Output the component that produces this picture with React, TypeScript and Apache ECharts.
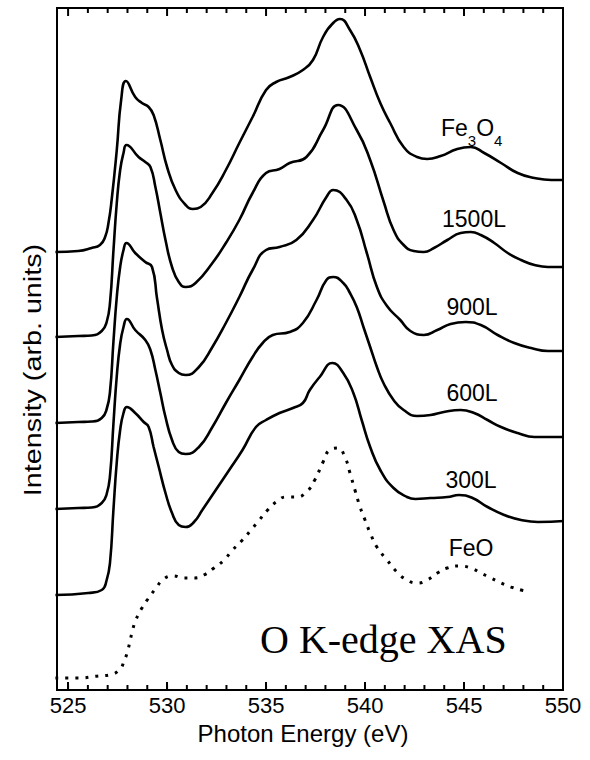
import React, { useEffect, useRef } from "react";
import * as echarts from "echarts";

// ---- axis ticks ----
const xMajorTicks = [525, 530, 535, 540, 545, 550];
const xMinorTicks = [
  525, 526, 527, 528, 529, 530, 531, 532, 533, 534, 535, 536, 537, 538, 539, 540,
  541, 542, 543, 544, 545, 546, 547, 548, 549, 550,
];

// ---- series: [photon energy (eV), intensity (arb. units, offset as plotted)] ----
const fe3o4 = [
  [524.36, 43.8], [525.51, 43.9], [526.19, 44.2], [526.61, 44.5], [526.87, 45.3],
  [527.04, 46.7], [527.2, 49.0], [527.46, 54.0], [527.68, 59.0], [527.92, 60.9],
  [528.39, 59.3], [528.73, 58.7], [529.07, 58.3], [529.32, 57.5], [529.66, 55.0],
  [530.0, 52.3], [530.43, 50.0], [530.94, 48.5], [531.31, 48.1], [531.7, 48.3],
  [532.29, 49.7], [532.97, 52.0], [533.65, 54.7], [534.32, 57.3], [535.0, 60.0],
  [535.51, 60.8], [536.19, 61.3], [536.86, 62.0], [537.37, 63.0], [537.88, 65.3],
  [538.39, 66.7], [538.73, 67.1], [539.24, 66.0], [539.75, 64.0], [540.26, 61.3],
  [540.77, 58.7], [541.27, 56.7], [541.95, 54.3], [542.63, 53.3], [543.14, 53.1],
  [543.82, 53.4], [544.66, 54.1], [545.34, 54.3], [546.02, 53.7], [546.87, 52.7],
  [547.71, 51.7], [548.56, 51.2], [549.41, 51.0], [550.05, 51.0],
];

const l1500 = [
  [524.36, 35.3], [525.51, 35.4], [526.19, 35.45], [526.7, 35.9], [526.95, 36.8],
  [527.12, 38.8], [527.29, 43.9], [527.46, 48.7], [527.63, 52.0], [527.8, 53.7],
  [527.95, 54.5], [528.56, 53.3], [528.9, 52.8], [529.16, 52.3], [529.41, 50.3],
  [529.66, 47.7], [529.92, 45.0], [530.25, 42.3], [530.59, 40.8], [530.94, 40.3],
  [531.44, 40.7], [532.29, 42.7], [532.97, 44.7], [533.65, 47.0], [534.32, 49.7],
  [535.0, 51.7], [535.68, 52.1], [536.19, 52.7], [537.04, 53.3], [537.88, 56.0],
  [538.64, 58.5], [539.58, 56.0], [540.26, 53.0], [540.93, 48.9], [541.44, 46.0],
  [541.95, 44.5], [542.46, 43.9], [542.97, 43.8], [543.48, 44.2], [544.16, 45.0],
  [544.83, 45.7], [545.34, 45.8], [545.85, 45.5], [546.53, 44.7], [547.21, 43.7],
  [547.88, 43.0], [548.56, 42.5], [549.24, 42.3], [550.05, 42.3],
];

const l900 = [
  [524.36, 26.7], [525.51, 26.8], [526.19, 26.85], [526.7, 27.2], [526.95, 28.1],
  [527.12, 29.9], [527.29, 34.8], [527.46, 39.3], [527.63, 42.3], [527.8, 44.0],
  [527.95, 44.7], [528.39, 43.7], [528.9, 42.8], [529.24, 42.3], [529.49, 39.2],
  [529.75, 36.0], [530.0, 34.0], [530.25, 32.5], [530.59, 31.7], [530.94, 31.5],
  [531.61, 32.3], [532.29, 34.3], [532.97, 36.7], [533.65, 39.3], [534.32, 42.0],
  [535.0, 44.0], [535.68, 44.3], [536.53, 45.0], [537.37, 47.0], [538.05, 49.3],
  [538.39, 50.0], [539.07, 49.0], [539.58, 47.0], [540.09, 43.7], [540.6, 40.3],
  [541.11, 38.4], [541.78, 37.0], [542.29, 35.9], [542.97, 35.5], [543.65, 36.0],
  [544.32, 36.6], [545.09, 36.8], [545.85, 36.5], [546.7, 35.5], [547.54, 34.7],
  [548.39, 34.2], [549.24, 33.9], [550.05, 33.9],
];

const l600 = [
  [524.36, 18.1], [525.51, 18.2], [526.19, 18.25], [526.7, 18.7], [526.95, 19.6],
  [527.12, 21.5], [527.29, 26.6], [527.46, 31.4], [527.63, 34.6], [527.8, 36.3],
  [527.97, 37.1], [528.39, 36.0], [528.9, 35.0], [529.16, 34.0], [529.41, 32.0],
  [529.66, 29.7], [529.92, 27.3], [530.25, 25.0], [530.59, 23.8], [530.94, 23.6],
  [531.61, 24.3], [532.29, 26.3], [532.97, 28.7], [533.65, 31.0], [534.32, 33.3],
  [534.83, 34.7], [535.34, 35.5], [536.19, 35.8], [536.86, 36.7], [537.55, 39.0],
  [538.05, 41.0], [538.39, 41.3], [538.9, 40.7], [539.24, 39.7], [539.58, 38.3],
  [539.92, 36.3], [540.26, 34.3], [540.6, 32.3], [540.93, 30.7], [541.44, 29.0],
  [541.95, 28.0], [542.63, 27.4], [543.31, 27.5], [543.98, 27.8], [544.83, 28.0],
  [545.51, 27.7], [546.19, 27.0], [546.87, 26.3], [547.71, 25.7], [548.56, 25.3],
  [550.05, 25.3],
];

const l300 = [
  [524.36, 9.5], [526.02, 9.7], [526.7, 10.0], [526.95, 11.0], [527.12, 12.8],
  [527.29, 18.0], [527.46, 22.8], [527.63, 26.0], [527.8, 27.7], [527.97, 28.3],
  [528.39, 27.7], [528.82, 26.8], [529.07, 26.3], [529.32, 24.3], [529.58, 22.3],
  [529.92, 19.7], [530.25, 17.7], [530.59, 16.5], [530.94, 16.3], [531.36, 16.8],
  [531.78, 18.0], [532.46, 20.0], [533.14, 22.0], [533.81, 24.0], [534.49, 26.3],
  [535.0, 27.0], [535.68, 27.7], [536.36, 28.2], [536.86, 28.7], [537.21, 30.0],
  [537.71, 31.3], [538.35, 32.7], [538.9, 31.7], [539.41, 29.7], [539.83, 27.0],
  [540.26, 24.3], [540.77, 22.0], [541.44, 20.2], [542.12, 19.3], [542.54, 19.1],
  [543.31, 19.2], [544.16, 19.3], [544.75, 19.5], [545.43, 19.2], [546.19, 18.3],
  [547.03, 17.5], [547.88, 17.0], [548.73, 16.8], [550.05, 16.9],
];

const feo = [
  [524.36, 1.2], [525.51, 1.2], [526.53, 1.4], [527.07, 1.5], [527.58, 2.0],
  [527.85, 3.0], [528.02, 4.0], [528.14, 5.0], [528.26, 6.0], [528.42, 7.0],
  [528.7, 8.1], [529.03, 9.1], [529.41, 10.1], [529.83, 11.1], [530.31, 11.4],
  [530.84, 11.2], [531.36, 11.2], [531.86, 11.5], [532.37, 12.2], [532.88, 13.0],
  [533.31, 14.0], [533.81, 15.0], [534.24, 16.0], [534.66, 17.0], [535.08, 18.0],
  [535.51, 18.8], [536.02, 19.3], [536.53, 19.3], [537.04, 19.8], [537.46, 21.0],
  [537.88, 22.8], [538.22, 24.0], [538.64, 24.2], [538.98, 23.3], [539.24, 21.7],
  [539.49, 20.0], [539.75, 18.3], [540.0, 17.0], [540.26, 15.7], [540.6, 14.3],
  [541.11, 13.0], [541.61, 11.8], [542.12, 11.0], [542.63, 10.7], [543.14, 11.0],
  [543.65, 11.7], [544.16, 12.2], [544.75, 12.4], [545.34, 12.2], [545.85, 11.7],
  [546.36, 11.2], [546.87, 10.7], [547.37, 10.3], [547.88, 10.0], [548.3, 9.8],
];

const curveLabels = ["1500L", "900L", "600L", "300L", "FeO"];

const SANS = "Liberation Sans, Arial, Helvetica, sans-serif";
const SERIF = "Liberation Serif, Times New Roman, serif";

const Y_MIN = 0;
const Y_MAX = 68.2;

export default function App() {
  const ref = useRef<HTMLDivElement>(null);

  useEffect(() => {
    if (!ref.current) return;
    const chart = echarts.init(ref.current, undefined, { renderer: "svg" });

    const solid = (name: string, data: number[][]) => ({
      name,
      type: "line",
      data,
      smooth: 0.5,
      showSymbol: false,
      symbol: "none",
      clip: true,
      lineStyle: { color: "#000", width: 2.6 },
    });

    // minor ticks on bottom and all ticks on top: [value, isMajor]
    const tickData = xMinorTicks.map((v) => [v, xMajorTicks.indexOf(v) >= 0 ? 1 : 0]);

    const labelPos = [
      [474, 219],
      [472, 307],
      [472, 393],
      [471, 480],
      [471, 548],
    ];

    chart.setOption({
      animation: false,
      grid: {
        left: 57,
        top: 8,
        width: 506,
        height: 682,
        show: true,
        borderColor: "#000",
        borderWidth: 2,
        outerBoundsMode: "none",
      },
      xAxis: {
        type: "value",
        min: 524.44,
        max: 550,
        splitLine: { show: false },
        axisLine: { show: true, lineStyle: { color: "#000", width: 2 } },
        axisTick: {
          show: true,
          inside: true,
          length: 8,
          customValues: xMajorTicks,
          lineStyle: { color: "#000", width: 2 },
        },
        axisLabel: {
          show: true,
          customValues: xMajorTicks,
          color: "#000",
          fontSize: 22,
          fontFamily: SANS,
          margin: 4,
        },
        name: "Photon Energy (eV)",
        nameLocation: "middle",
        nameGap: 31,
        nameTextStyle: { color: "#000", fontSize: 24, fontFamily: SANS, padding: [0, 14, 0, 0] },
      },
      yAxis: {
        type: "value",
        min: Y_MIN,
        max: Y_MAX,
        axisLine: { show: false },
        axisTick: { show: false },
        axisLabel: { show: false },
        splitLine: { show: false },
      },
      series: [
        {
          type: "custom",
          data: tickData,
          clip: false,
          renderItem: (params: any, api: any) => {
            const x = api.value(0);
            const len = api.value(1) === 1 ? 8 : 5;
            const t = api.coord([x, Y_MAX]);
            const b = api.coord([x, Y_MIN]);
            return {
              type: "rect",
              shape: { x: t[0] - 1, y: t[1], width: 2, height: len },
              style: { fill: "#000" },
              textContent: undefined,
              // bottom minor tick drawn via a second rect below
              children: undefined,
              extra: b,
            };
          },
        },
        {
          type: "custom",
          data: tickData,
          clip: false,
          renderItem: (params: any, api: any) => {
            const x = api.value(0);
            const b = api.coord([x, Y_MIN]);
            return {
              type: "rect",
              shape: { x: b[0] - 1, y: b[1] - 5, width: 2, height: 5 },
              style: { fill: "#000" },
            };
          },
        },
        solid("Fe3O4", fe3o4),
        solid("1500L", l1500),
        solid("900L", l900),
        solid("600L", l600),
        solid("300L", l300),
        {
          name: "FeO",
          type: "line",
          data: feo,
          smooth: 0.5,
          showSymbol: false,
          symbol: "none",
          clip: true,
          lineStyle: { color: "#000", width: 3, type: [3, 7] },
        },
      ],
      graphic: [
        {
          type: "text",
          x: 33,
          y: 370,
          rotation: Math.PI / 2,
          scaleX: 1.25,
          style: {
            text: "Intensity (arb. units)",
            fontSize: 23,
            fontFamily: SANS,
            fill: "#000",
            align: "center",
            verticalAlign: "middle",
            textAlign: "center",
            textVerticalAlign: "middle",
          },
        },
        {
          type: "text",
          x: 441,
          y: 128,
          style: {
            text: "{m|Fe}{s|3}{m|O}{s|4}",
            fill: "#000",
            align: "left",
            verticalAlign: "middle",
            textAlign: "left",
            textVerticalAlign: "middle",
            rich: {
              m: { fontSize: 23, fontFamily: SANS, fill: "#000", lineHeight: 40 },
              s: { fontSize: 15, fontFamily: SANS, fill: "#000", lineHeight: 16, verticalAlign: "bottom" },
            },
          },
        },
        ...curveLabels.map((t, i) => ({
          type: "text",
          x: labelPos[i][0],
          y: labelPos[i][1],
          style: {
            text: t,
            fontSize: 23,
            fontFamily: SANS,
            fill: "#000",
            align: "center",
            verticalAlign: "middle",
            textAlign: "center",
            textVerticalAlign: "middle",
          },
        })),
        {
          type: "text",
          x: 260,
          y: 639,
          style: {
            text: "O K-edge XAS",
            fontSize: 40,
            fontFamily: SERIF,
            fill: "#000",
            align: "left",
            verticalAlign: "middle",
            textAlign: "left",
            textVerticalAlign: "middle",
          },
        },
      ],
    });

    return () => chart.dispose();
  }, []);

  return (
    <div
      ref={ref}
      style={{ position: "absolute", left: 0, top: 0, width: 590, height: 760, background: "#fff" }}
    />
  );
}
